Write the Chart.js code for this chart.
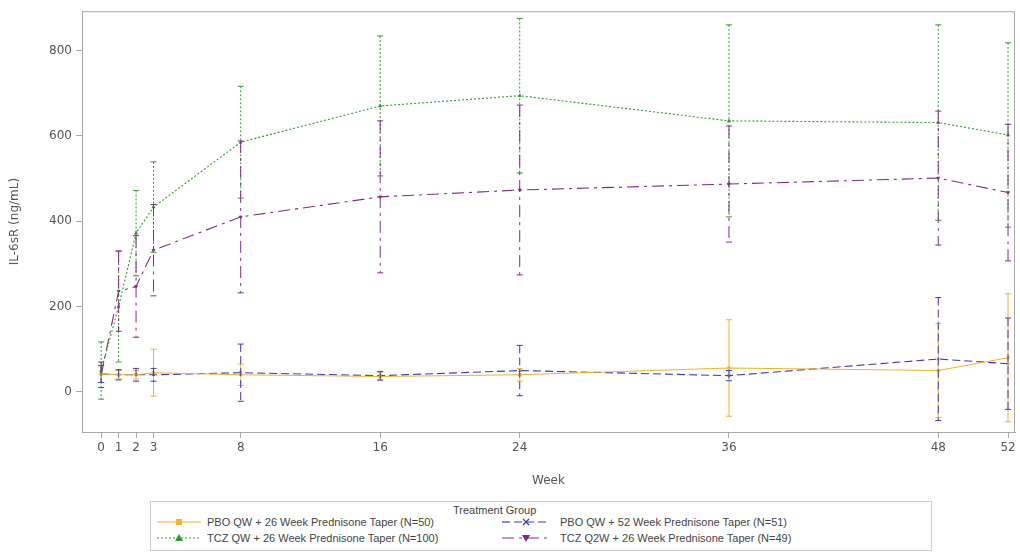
<!DOCTYPE html>
<html>
<head>
<meta charset="utf-8">
<title>IL-6sR by Week</title>
<script src="https://cdn.jsdelivr.net/npm/chart.js@4/dist/chart.umd.min.js"></script>
<style>
  body { margin: 0; background: #fff; font-family: "DejaVu Sans", sans-serif; }
  #wrap { position: absolute; left: 0; top: 0; width: 1020px; height: 492px; }
  #legend { position: absolute; left: 150px; top: 501px; width: 782px; height: 50px;
            border: 1px solid #cfcfcf; box-sizing: border-box; color: #444;
            font: 11px "Liberation Sans", Arial, sans-serif; }
  #legend .title { position: absolute; left: 302px; top: 2px; }
  #legend .item { position: absolute; display: flex; align-items: center; white-space: nowrap; }
</style>
</head>
<body>
<div id="wrap"><canvas id="ilChart"></canvas></div>
<div id="legend"><div class="title">Treatment Group</div></div>

<script>
// weeks on the x axis
const weeks = [0, 1, 2, 3, 8, 16, 24, 36, 48, 52];
const weekTicks = [0, 1, 2, 3, 8, 16, 24, 36, 48, 52];
const yTicks = [0, 200, 400, 600, 800];

// mean and SD (ng/mL) per group
const pbo26Mean = [42, 40, 40, 45, 40, 36, 40, 56, 50, 80];
const pbo26Sd = [20, 10, 10, 55, 25, 10, 15, 113, 110, 150];

const pbo52Mean = [42, 40, 40, 40, 45, 38, 50, 38, 77, 66];
const pbo52Sd = [20, 12, 15, 15, 67, 10, 59, 12, 144, 107];

const tczQwMean = [50, 200, 372, 433, 585, 670, 694, 635, 631, 602];
const tczQwSd = [67, 130, 100, 106, 131, 164, 181, 225, 229, 216];

const tczQ2wMean = [40, 236, 247, 332, 410, 457, 473, 487, 501, 467];
const tczQ2wSd = [30, 94, 119, 107, 178, 178, 199, 136, 157, 160];

const groups = [
  { label: "PBO QW + 26 Week Prednisone Taper (N=50)", mean: pbo26Mean, sd: pbo26Sd,
    color: "#f2b233", dash: [], marker: "rect", rotation: 0 },
  { label: "PBO QW + 52 Week Prednisone Taper (N=51)", mean: pbo52Mean, sd: pbo52Sd,
    color: "#3a3ab8", dash: [8, 4], marker: "crossRot", rotation: 0 },
  { label: "TCZ QW + 26 Week Prednisone Taper (N=100)", mean: tczQwMean, sd: tczQwSd,
    color: "#2f9a2f", dash: [2, 2], marker: "triangle", rotation: 0 },
  { label: "TCZ Q2W + 26 Week Prednisone Taper (N=49)", mean: tczQ2wMean, sd: tczQ2wSd,
    color: "#842a84", dash: [12, 5, 3, 5], marker: "triangle", rotation: 180 },
];

const axisGray = "#a8a8a8";
const textGray = "#555";
const tickFont = { family: "DejaVu Sans", size: 12 };

// vertical mean +/- SD bars, drawn through the chart scales
const errorBars = {
  id: "errorBars",
  afterDatasetsDraw(chart) {
    const ctx = chart.ctx;
    const xs = chart.scales.x;
    const ys = chart.scales.y;
    groups.forEach((g) => {
      ctx.save();
      ctx.strokeStyle = g.color;
      ctx.lineWidth = 1;
      weeks.forEach((w, j) => {
        const px = xs.getPixelForValue(w);
        const top = ys.getPixelForValue(g.mean[j] + g.sd[j]);
        const bot = ys.getPixelForValue(g.mean[j] - g.sd[j]);
        ctx.setLineDash(g.dash);
        ctx.beginPath();
        ctx.moveTo(px, top);
        ctx.lineTo(px, bot);
        ctx.stroke();
        ctx.setLineDash([]);
        ctx.beginPath();
        ctx.moveTo(px - 3, top);
        ctx.lineTo(px + 3, top);
        ctx.moveTo(px - 3, bot);
        ctx.lineTo(px + 3, bot);
        ctx.stroke();
      });
      ctx.restore();
    });
  },
};

// gray frame round the plot area
const frame = {
  id: "frame",
  afterDraw(chart) {
    const a = chart.chartArea;
    const ctx = chart.ctx;
    ctx.save();
    ctx.strokeStyle = axisGray;
    ctx.lineWidth = 1;
    ctx.strokeRect(a.left + 0.5, a.top + 0.5, a.right - a.left - 1, a.bottom - a.top);
    ctx.restore();
  },
};

const ctx = document.getElementById("ilChart").getContext("2d");

new Chart(ctx, {
  type: "line",
  data: {
    datasets: groups.map((g) => ({
      label: g.label,
      data: weeks.map((w, j) => ({ x: w, y: g.mean[j] })),
      borderColor: g.color,
      backgroundColor: g.color,
      borderWidth: 1.1,
      borderDash: g.dash,
      pointStyle: g.marker,
      pointRotation: g.rotation,
      pointRadius: 1.6,
      pointBorderWidth: 1,
      tension: 0,
    })),
  },
  options: {
    responsive: true,
    maintainAspectRatio: false,
    animation: false,
    layout: { padding: { top: 11, right: 1, left: 0, bottom: 0 } },
    plugins: {
      legend: { display: false },
      tooltip: { enabled: false },
    },
    scales: {
      x: {
        type: "linear",
        min: -1.1,
        max: 52.4,
        afterBuildTicks: (scale) => { scale.ticks = weekTicks.map((v) => ({ value: v })); },
        afterFit: (scale) => { scale.height = 60; },
        ticks: { autoSkip: false, maxRotation: 0, color: textGray, font: tickFont, padding: 3 },
        grid: { drawOnChartArea: false, tickLength: 6, color: axisGray },
        border: { color: axisGray },
        title: { display: true, text: "Week", color: textGray, font: tickFont, padding: { top: 16 } },
      },
      y: {
        min: -94,
        max: 892,
        afterBuildTicks: (scale) => { scale.ticks = yTicks.map((v) => ({ value: v })); },
        afterFit: (scale) => { scale.width = 82; },
        ticks: { color: textGray, font: tickFont, padding: 4 },
        grid: { drawOnChartArea: false, tickLength: 6, color: axisGray },
        border: { color: axisGray },
        title: { display: true, text: "IL-6sR (ng/mL)", color: textGray, font: tickFont, padding: { top: 8 } },
      },
    },
  },
  plugins: [errorBars, frame],
});

// legend: two columns, sample line with marker, then label
const legendSlots = [[6, 14, 44, 6], [351, 14, 48, 10], [6, 30, 44, 6], [351, 30, 48, 10]];
const legendEl = document.getElementById("legend");

function markerSvg(g, c) {
  const m = 5;
  if (g.marker === "rect") return `<rect x="${c - 3}" y="${m - 3}" width="6" height="6" fill="${g.color}"/>`;
  if (g.marker === "crossRot") {
    return `<path d="M${c - 3} ${m - 3}L${c + 3} ${m + 3}M${c + 3} ${m - 3}L${c - 3} ${m + 3}" stroke="${g.color}" stroke-width="1.3"/>`;
  }
  if (g.rotation === 180) return `<path d="M${c - 4} ${m - 3}L${c + 4} ${m - 3}L${c} ${m + 4}Z" fill="${g.color}"/>`;
  return `<path d="M${c - 4} ${m + 3}L${c + 4} ${m + 3}L${c} ${m - 4}Z" fill="${g.color}"/>`;
}

groups.forEach((g, i) => {
  const [left, top, w, gap] = legendSlots[i];
  const item = document.createElement("div");
  item.className = "item";
  item.style.left = left + "px";
  item.style.top = top + "px";
  const dash = g.dash.length ? `stroke-dasharray="${g.dash.join(" ")}"` : "";
  item.innerHTML =
    `<svg width="${w}" height="10" style="margin-right:${gap}px"><line x1="0" y1="5" x2="${w}" y2="5" stroke="${g.color}" stroke-width="1.2" ${dash}/>` +
    markerSvg(g, w / 2) + `</svg><span>${g.label}</span>`;
  legendEl.appendChild(item);
});
</script>
</body>
</html>
